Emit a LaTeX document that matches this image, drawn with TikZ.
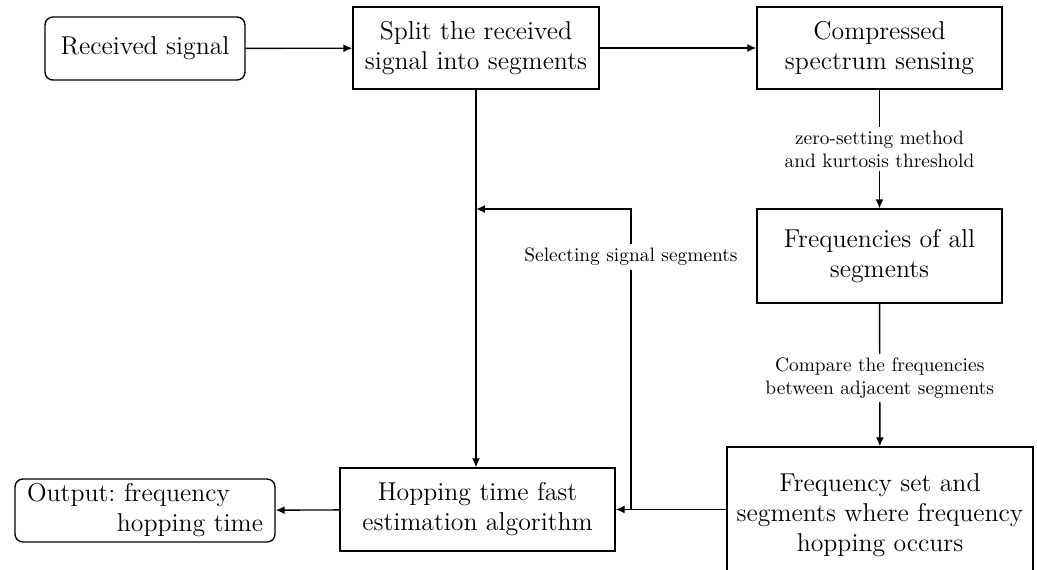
\documentclass[tikz,border=0pt]{standalone}
\usetikzlibrary{arrows.meta}
\begin{document}
\frenchspacing
\begin{tikzpicture}[x=0.5pt,y=-0.5pt,
  box/.style={draw,line width=0.7pt,align=center,inner sep=2pt,font=\fontsize{12.9}{15}\selectfont},
  rbox/.style={box,rounded corners=4pt},
  arr/.style={line width=0.7pt,-{Latex[length=4.5pt,width=4pt]}},
  ln/.style={line width=0.7pt},
  lab/.style={fill=white,align=center,inner sep=2pt,font=\fontsize{9.7}{11.5}\selectfont}]
\clip (0,0) rectangle (1037,569);
\node[rbox,minimum width=100pt,minimum height=31.5pt] (recv) at (145,48.5) {Received signal};
\node[box,minimum width=123pt,minimum height=41pt] (split) at (476,48) {Split the received\\signal into segments};
\node[box,minimum width=122.5pt,minimum height=41pt] (cs) at (879.5,48) {Compressed\\spectrum sensing};
\node[box,minimum width=122.5pt,minimum height=47pt] (freq) at (879.5,256) {Frequencies of all\\segments};
\node[box,minimum width=153pt,minimum height=68pt] (fset) at (880,515) {Frequency set and\\segments where frequency\\hopping occurs};
\node[box,minimum width=137.5pt,minimum height=41.5pt] (hop) at (477.5,509.5) {Hopping time fast\\estimation algorithm};
\node[rbox,minimum width=130pt,minimum height=31.5pt,text width=118pt,align=left] (out) at (145,510.5) {Output: frequency\\\hspace*{\fill}hopping time};
\draw[arr] (recv) -- (split);
\draw[arr] (split) -- (cs);
\draw[arr] (cs) -- node[lab]{zero-setting method\\and kurtosis threshold} (freq);
\draw[arr] (freq) -- node[lab,pos=0.52]{Compare the frequencies\\between adjacent segments} (fset);
\draw[arr] (split.south) -- (split.south |- hop.north);
\draw[arr] (fset.west |- hop.east) -- (hop.east);
\coordinate (j) at (631,509.5);
\coordinate (k) at (631,209);
\draw[arr] (j) -- node[lab,pos=0.84]{Selecting signal segments} (k) -- (k -| split.south);
\draw[arr] (hop) -- (out);
\end{tikzpicture}
\end{document}
